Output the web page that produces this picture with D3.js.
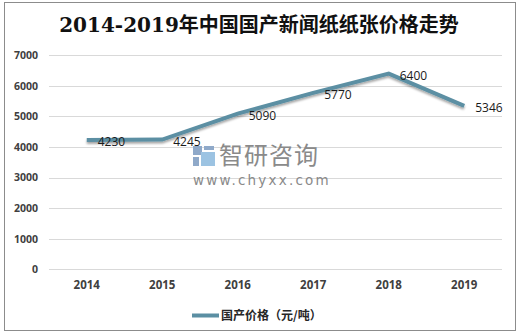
<!DOCTYPE html>
<html><head><meta charset="utf-8">
<script src="https://cdn.jsdelivr.net/npm/d3@7"></script>
<style>body{margin:0;background:#fff}svg{display:block}</style>
</head><body>
<script>
const years = ["2014","2015","2016","2017","2018","2019"];
const prices = [4230,4245,5090,5770,6400,5346];
const yTicks = [0,1000,2000,3000,4000,5000,6000,7000];
const title = "2014-2019年中国国产新闻纸纸张价格走势";
const seriesName = "国产价格（元/吨）";

const W = 520, H = 335;
const svg = d3.select("body").append("svg").attr("width", W).attr("height", H);
const defs = svg.append("defs");
const f = defs.append("filter").attr("id","sh").attr("x","-10%").attr("y","-50%").attr("width","120%").attr("height","200%");
f.append("feDropShadow").attr("dx",0).attr("dy",2).attr("stdDeviation",1.2).attr("flood-color","#000").attr("flood-opacity",0.35);

svg.append("rect").attr("x",4.5).attr("y",2.5).attr("width",511).attr("height",328)
  .attr("fill","#fff").attr("stroke","#8c8c8c").attr("stroke-width",1);

svg.append("text").attr("x",259).attr("y",32).attr("text-anchor","middle")
  .attr("font-family","'DejaVu Serif','Noto Sans CJK SC',serif").attr("font-size",20).attr("font-weight","bold")
  .attr("fill","#111").text(title);

const x = d3.scaleBand().domain(years).range([49,502]);
const y = d3.scaleLinear().domain([0,7000]).range([269.3,55.3]);

svg.append("g").selectAll("line").data(yTicks).join("line")
  .attr("x1",49).attr("x2",502).attr("y1",d=>Math.round(y(d))+0.5).attr("y2",d=>Math.round(y(d))+0.5)
  .attr("stroke","#d9d9d9").attr("stroke-width",1);

const yAxis = d3.axisLeft(y).tickValues(yTicks).tickFormat(d3.format("d")).tickSize(0).tickPadding(0);
const gy = svg.append("g").attr("transform","translate(38,0)").call(yAxis);
gy.select(".domain").remove();
gy.selectAll("text").attr("font-family","'Open Sans','Liberation Sans',sans-serif").attr("font-size",10.5).attr("font-weight","bold").attr("fill","#404040");

const xAxis = d3.axisBottom(x).tickSize(0).tickPadding(0);
const gx = svg.append("g").attr("transform","translate(0,281)").call(xAxis);
gx.select(".domain").remove();
gx.selectAll("text").attr("font-family","'Open Sans','Liberation Sans',sans-serif").attr("font-size",11.5).attr("font-weight","bold").attr("fill","#404040");

const wm = svg.append("g");
wm.append("rect").attr("x",193).attr("y",146).attr("width",9).attr("height",9).attr("fill","#8fa9c9");
wm.append("rect").attr("x",204).attr("y",146).attr("width",10).attr("height",4).attr("fill","#8fa9c9");
wm.append("rect").attr("x",193).attr("y",157).attr("width",6).attr("height",9).attr("fill","#8fa9c9");
wm.append("rect").attr("x",201).attr("y",152).attr("width",14).attr("height",14).attr("fill","#9cc3e2");
wm.append("text").attr("x",219).attr("y",164).attr("font-family","'Noto Sans CJK SC',sans-serif").attr("font-size",24).attr("fill","#8a8a8a").attr("letter-spacing",1).text("智研咨询");
wm.append("text").attr("x",193).attr("y",185).attr("font-family","'DejaVu Sans',sans-serif").attr("font-size",13.5).attr("fill","#8a8a8a").attr("letter-spacing",2.2).text("www.chyxx.com");

const cx = d => x(d) + x.bandwidth()/2;
const line = d3.line().x((d,i)=>cx(years[i])).y(d=>y(d));
svg.append("path").datum(prices).attr("d",line).attr("fill","none")
  .attr("stroke","#5b8fa3").attr("stroke-width",4).attr("stroke-linejoin","miter").attr("filter","url(#sh)");

svg.append("g").selectAll("text").data(prices).join("text")
  .attr("x",(d,i)=>cx(years[i])+11).attr("y",d=>y(d)+6)
  .attr("font-family","'Open Sans','Liberation Sans',sans-serif").attr("font-size",12).attr("fill","#1a1a1a")
  .text(d=>d);

svg.append("line").attr("x1",192).attr("x2",219).attr("y1",315.5).attr("y2",315.5).attr("stroke","#5b8fa3").attr("stroke-width",4);
svg.append("text").attr("x",221).attr("y",320).attr("font-family","'Noto Sans CJK SC',sans-serif").attr("font-size",12).attr("font-weight","bold").attr("fill","#262626").text(seriesName);
</script>
</body></html>
